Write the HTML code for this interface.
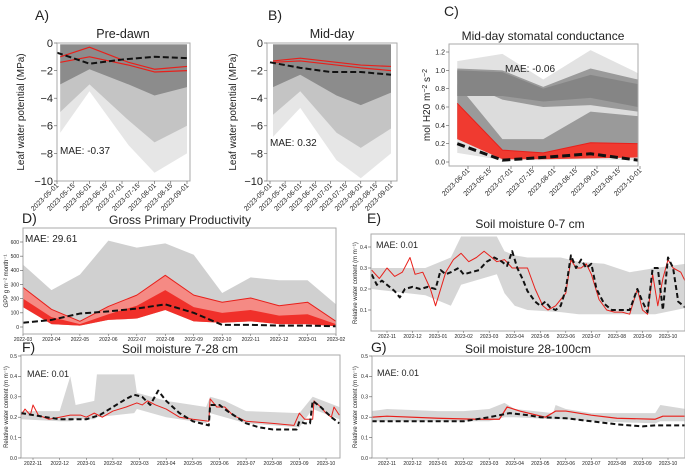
<!DOCTYPE html>
<html><head><meta charset="utf-8"><style>
body{margin:0;background:#fff;}
svg{display:block;font-family:"Liberation Sans",sans-serif;}
</style></head><body>
<svg id="fig" width="685" height="466" viewBox="0 0 685 466"></svg>
<script>
// ---------- DATA ----------
const aX=[0.2,2,4.4,6,8];
const aLightLo=[-6.5,-3.5,-7.4,-9.4,-8.0];
const aMidLo=[-5.0,-3.0,-5.6,-7.2,-6.0];
const aDarkLo=[-3.0,-1.9,-3.0,-3.8,-3.2];
const aHi=[-0.1,-0.1,-0.1,-0.1,-0.1];
const aRed1=[-1.0,-0.3,-1.4,-1.9,-1.7];
const aRed2=[-1.4,-1.0,-1.6,-2.1,-2.0];
const aObsX=[0,2,4,6,8];
const aObs=[-0.7,-1.5,-1.2,-1.0,-1.1];
const abTicks=["2023-05-01","2023-05-15","2023-06-01","2023-06-15","2023-07-01","2023-07-15","2023-08-01","2023-08-15","2023-09-01"];
const abYTicks=[0,-2,-4,-6,-8,-10];
const bX=[0.2,2,4.4,6,8];
const bLightLo=[-6.8,-4.7,-8.5,-9.8,-8.0];
const bMidLo=[-5.2,-3.5,-6.5,-7.6,-6.2];
const bDarkLo=[-3.2,-2.3,-3.8,-4.5,-3.6];
const bHi=[-0.1,-0.1,-0.1,-0.1,-0.1];
const bRed1=[-1.3,-1.1,-1.4,-1.6,-1.7];
const bRed2=[-1.4,-1.3,-1.6,-1.8,-2.0];
const bObs=[-1.4,-1.8,-2.1,-2.1,-2.3];
const cX=[-0.5,1.6,3.5,5.7,7.9];
const cLightHi=[1.1,1.18,0.9,1.22,0.97];
const cLightLo=[0.1,0.02,0.02,0.03,0.02];
const cGrayHi=[1.02,1.0,0.82,1.02,0.9];
const cGrayLo=[0.25,0.12,0.1,0.2,0.2];
const cHoleHi=[0.9,0.68,0.6,0.62,0.55];
const cHoleLo=[0.85,0.25,0.25,0.55,0.5];
const cDarkHi=[1.0,0.98,0.8,0.95,0.85];
const cDarkLo=[0.72,0.72,0.66,0.7,0.6];
const cRedHi=[0.64,0.13,0.1,0.21,0.2];
const cRedLo=[0.25,0.03,0.03,0.04,0.05];
const cObs=[0.2,0.02,0.05,0.09,0.02];
const cTicks=["2023-06-01","2023-06-15","2023-07-01","2023-07-15","2023-08-01","2023-08-15","2023-09-01","2023-09-15","2023-10-01"];
const cYTicks=[0,0.2,0.4,0.6,0.8,1.0,1.2];
const dX=[0,1,2,3,4,5,6,7,8,9,10,11];
const dGrayHi=[440,260,370,610,560,590,510,240,350,330,330,160];
const dRedHi=[280,125,40,145,225,365,225,175,205,150,175,40];
const dRedMid=[200,70,20,90,150,260,140,100,120,80,90,20];
const dRedLo=[140,20,10,50,60,120,40,30,40,20,20,5];
const dObs=[30,50,95,110,130,160,100,15,15,10,10,5];
const dTicks=["2022-03","2022-04","2022-05","2022-06","2022-07","2022-08","2022-09","2022-10","2022-11","2022-12","2023-01","2023-02"];
const dYTicks=[0,100,200,300,400,500,600];
const monthTicks=["2022-11","2022-12","2023-01","2023-02","2023-03","2023-04","2023-05","2023-06","2023-07","2023-08","2023-09","2023-10"];
const soilYTicks=[0,0.1,0.2,0.3,0.4,0.5];
const eObsT=[-0.6,-0.4,-0.2,0,0.3,0.5,0.7,1.0,1.3,1.6,1.9,2.1,2.3,2.5,2.8,3.0,3.3,3.6,3.9,4.2,4.5,4.7,4.9,5.1,5.3,5.5,5.8,6.0,6.2,6.4,6.6,6.8,7.0,7.2,7.4,7.6,7.8,8.0,8.2,8.5,8.8,9.2,9.5,9.8,10.0,10.2,10.4,10.6,10.8,11.0,11.2,11.4,11.6,11.7];
const eObs=[0.27,0.22,0.24,0.22,0.19,0.16,0.2,0.21,0.2,0.21,0.2,0.29,0.27,0.28,0.3,0.27,0.28,0.29,0.33,0.35,0.33,0.31,0.38,0.3,0.25,0.19,0.14,0.12,0.14,0.11,0.1,0.12,0.2,0.36,0.3,0.34,0.3,0.32,0.2,0.13,0.1,0.1,0.1,0.2,0.14,0.09,0.3,0.3,0.1,0.35,0.3,0.14,0.12,0.11];
const eRedT=[-0.6,-0.3,0,0.3,0.6,0.9,1.1,1.4,1.7,1.9,2.1,2.3,2.6,2.9,3.2,3.5,3.8,4.1,4.3,4.6,4.9,5.2,5.5,5.8,6.1,6.3,6.6,6.8,7.0,7.2,7.4,7.6,7.8,8.0,8.3,8.6,8.9,9.2,9.5,9.8,10.0,10.2,10.4,10.6,10.8,11.0,11.2,11.5,11.7];
const eRed=[0.29,0.25,0.3,0.26,0.28,0.35,0.27,0.28,0.2,0.12,0.2,0.28,0.34,0.37,0.33,0.35,0.38,0.35,0.33,0.34,0.3,0.3,0.3,0.2,0.12,0.1,0.12,0.15,0.18,0.34,0.3,0.3,0.32,0.27,0.15,0.1,0.09,0.09,0.08,0.2,0.1,0.08,0.27,0.12,0.25,0.34,0.3,0.28,0.23];
const eGrayT=[-0.6,1.5,2.5,2.9,4.3,4.6,5.0,5.5,6.8,7.5,8.5,9.5,10.5,11.7];
const eGrayHi=[0.3,0.3,0.35,0.45,0.45,0.38,0.36,0.35,0.35,0.33,0.32,0.28,0.3,0.32];
const eGrayLo=[0.2,0.17,0.12,0.22,0.27,0.18,0.12,0.1,0.09,0.08,0.08,0.08,0.08,0.11];
const fObsT=[-0.45,0.5,1,2.0,2.5,3.0,3.5,3.8,4.1,4.4,4.7,5.0,5.5,6.0,6.6,6.65,7.0,7.3,8.0,8.5,9.0,9.9,10.0,10.2,10.4,10.5,10.8,11.2,11.5];
const fObs=[0.22,0.2,0.19,0.19,0.21,0.25,0.29,0.31,0.3,0.26,0.33,0.28,0.22,0.18,0.16,0.26,0.26,0.23,0.17,0.15,0.14,0.14,0.18,0.17,0.17,0.28,0.25,0.2,0.17];
const fRedT=[-0.45,-0.3,-0.1,0,0.2,0.6,1,1.4,1.8,2.0,2.3,2.6,3.0,3.5,3.9,4.1,4.3,4.6,5.0,5.5,6.0,6.6,6.65,6.9,7.2,7.5,8.0,9.0,9.8,10.0,10.2,10.5,10.55,10.8,11.0,11.2,11.3,11.5];
const fRed=[0.21,0.24,0.21,0.26,0.21,0.19,0.2,0.21,0.21,0.2,0.22,0.2,0.23,0.25,0.27,0.26,0.28,0.26,0.24,0.2,0.19,0.18,0.29,0.25,0.25,0.21,0.18,0.17,0.16,0.22,0.19,0.19,0.28,0.25,0.22,0.2,0.25,0.21];
const fGrayT=[-0.45,1,1.4,1.6,2.3,2.4,3.8,3.9,5,6.5,6.65,7.2,8,10,10.5,11.5];
const fGrayHi=[0.23,0.23,0.4,0.26,0.28,0.41,0.41,0.32,0.28,0.25,0.3,0.28,0.23,0.22,0.3,0.25];
const fGrayLo=[0.19,0.18,0.18,0.19,0.19,0.2,0.22,0.24,0.2,0.17,0.22,0.2,0.17,0.15,0.24,0.19];
const gObsT=[-0.6,3.0,4.0,4.8,5.5,6.0,7.0,8.0,9.0,10.0,10.5,11.7];
const gObs=[0.18,0.18,0.2,0.22,0.21,0.2,0.195,0.18,0.165,0.155,0.16,0.16];
const gRedT=[-0.6,0,2,3.5,4.4,4.7,5.2,6.2,6.6,7.0,8.0,9.0,10.5,10.8,11.7];
const gRed=[0.2,0.205,0.195,0.19,0.19,0.25,0.23,0.2,0.23,0.23,0.21,0.195,0.19,0.205,0.205];
const gGrayT=[-0.6,0,2,3,4.0,4.6,5,6.5,6.6,7.0,8,10.5,10.7,11.7];
const gGrayHi=[0.23,0.24,0.23,0.23,0.24,0.27,0.24,0.22,0.26,0.24,0.22,0.22,0.26,0.24];
const gGrayLo=[0.18,0.18,0.18,0.18,0.18,0.2,0.2,0.19,0.19,0.19,0.18,0.17,0.18,0.18];

// ---------- DRAWING ----------
const NS="http://www.w3.org/2000/svg";
const svg=document.getElementById('fig');
function el(tag,parent){const e=document.createElementNS(NS,tag);parent.appendChild(e);return e;}
let clipId=0;
function panel(name,box,xd,xr,yd,yr){
  const g=el('g',svg);
  
  
  const cp=el('clipPath',g);cp.setAttribute('id','cp'+clipId);
  const r=el('rect',cp);r.setAttribute('x',box[0]);r.setAttribute('y',box[1]);r.setAttribute('width',box[2]-box[0]);r.setAttribute('height',box[3]-box[1]);
  const plot=el('g',g);plot.setAttribute('clip-path','url(#cp'+clipId+')');
  
  
  clipId++;
  const sx=v=>xr[0]+(v-xd[0])/(xd[1]-xd[0])*(xr[1]-xr[0]);
  const sy=v=>yr[0]+(v-yd[0])/(yd[1]-yd[0])*(yr[1]-yr[0]);
  return {g,plot,box,sx,sy};
}
function band(p,xsHi,hi,xsLo,lo,fill,nm){
  const pts=xsHi.map((x,i)=>p.sx(x)+','+p.sy(hi[i]));
  for(let i=xsLo.length-1;i>=0;i--)pts.push(p.sx(xsLo[i])+','+p.sy(lo[i]));
  const e=el('polygon',p.plot);e.setAttribute('points',pts.join(' '));e.setAttribute('fill',fill);
  
  
}
function line(p,xs,ys,stroke,w,dash,nm){
  const e=el('polyline',p.plot);e.setAttribute('points',xs.map((x,i)=>p.sx(x)+','+p.sy(ys[i])).join(' '));
  e.setAttribute('fill','none');e.setAttribute('stroke',stroke);e.setAttribute('stroke-width',w);
  e.setAttribute('stroke-linejoin','round');
  if(dash)e.setAttribute('stroke-dasharray',dash);
  
  
}
function text(parent,x,y,s,size,anchor,nm,rot,color){
  const t=el('text',parent);t.setAttribute('x',x);t.setAttribute('y',y);t.setAttribute('font-size',size);
  t.setAttribute('text-anchor',anchor||'start');t.setAttribute('fill',color||'#222');
  if(rot)t.setAttribute('transform','rotate('+rot+' '+x+' '+y+')');
  t.textContent=s;
  
  
  return t;
}
function frame(p){
  const b=p.box;const r=el('rect',p.g);r.setAttribute('x',b[0]);r.setAttribute('y',b[1]);r.setAttribute('width',b[2]-b[0]);r.setAttribute('height',b[3]-b[1]);
  r.setAttribute('fill','none');r.setAttribute('stroke','#aaa');r.setAttribute('stroke-width','1');
  
  
}
function yticks(p,vals,fmt,size,nm){
  vals.forEach(v=>{const y=p.sy(v);
    const t=el('line',p.g);t.setAttribute('x1',p.box[0]-3);t.setAttribute('x2',p.box[0]);t.setAttribute('y1',y);t.setAttribute('y2',y);t.setAttribute('stroke','#555');t.setAttribute('stroke-width',0.6);
    text(p.g,p.box[0]-4,y+size*0.35,fmt(v),size,'end',nm+'-tick-label');});
}
function xticksRot(p,labels,size,nm){
  labels.forEach((s,i)=>{const x=p.sx(i);
    const t=el('line',p.g);t.setAttribute('x1',x);t.setAttribute('x2',x);t.setAttribute('y1',p.box[3]);t.setAttribute('y2',p.box[3]+3);t.setAttribute('stroke','#555');t.setAttribute('stroke-width',0.6);
    text(p.g,x+2,p.box[3]+5,s,size,'end',nm+'-tick-label',-45);});
}
function xticksFlat(p,labels,xs,size,nm){
  labels.forEach((s,i)=>{const x=p.sx(xs[i]);
    const t=el('line',p.g);t.setAttribute('x1',x);t.setAttribute('x2',x);t.setAttribute('y1',p.box[3]);t.setAttribute('y2',p.box[3]+2);t.setAttribute('stroke','#555');t.setAttribute('stroke-width',0.5);
    text(p.g,x,p.box[3]+7,s,size,'middle',nm+'-tick-label');});
}
const minus=v=>String(v).replace('-','\u2212');

// Panel A
const pa=panel('panel-a',[57,43,190,181],[0,8],[57,187],[-10,0],[181,43]);
band(pa,aX,aHi,aX,aLightLo,'#e6e6e6','ensemble-envelope');
band(pa,aX,aHi,aX,aMidLo,'#c4c4c4','ensemble-mid-band');
band(pa,aX,aHi,aX,aDarkLo,'#8c8c8c','ensemble-core-band');
line(pa,aX,aRed1,'#e8201b',1.2,null,'selected-run-1');
line(pa,aX,aRed2,'#e8201b',1.2,null,'selected-run-2');
line(pa,aObsX,aObs,'#111',2,'6,3','observed-line');
frame(pa);yticks(pa,abYTicks,minus,11,'y-axis');xticksRot(pa,abTicks,7,'x-axis');
text(pa.g,123,38,'Pre-dawn',12.5,'middle','panel-title');
text(svg,35,20,'A)',14,'start','panel-label-a');
text(pa.g,60,154,'MAE: -0.37',10,'start','mae-label');
text(pa.g,24,112,'Leaf water potential (MPa)',10,'middle','y-axis-title',-90);

// Panel B
const pb=panel('panel-b',[267,43,397,181],[0,8],[270,391],[-10,0],[181,43]);
band(pb,bX,bHi,bX,bLightLo,'#e6e6e6','ensemble-envelope');
band(pb,bX,bHi,bX,bMidLo,'#c4c4c4','ensemble-mid-band');
band(pb,bX,bHi,bX,bDarkLo,'#8c8c8c','ensemble-core-band');
line(pb,bX,bRed1,'#e8201b',1.2,null,'selected-run-1');
line(pb,bX,bRed2,'#e8201b',1.2,null,'selected-run-2');
line(pb,aObsX,bObs,'#111',2,'6,3','observed-line');
frame(pb);yticks(pb,abYTicks,minus,11,'y-axis');xticksRot(pb,abTicks,7,'x-axis');
text(pb.g,332,38,'Mid-day',12.5,'middle','panel-title');
text(svg,268,20,'B)',14,'start','panel-label-b');
text(pb.g,270,146,'MAE: 0.32',10,'start','mae-label');
text(pb.g,236,112,'Leaf water potential (MPa)',10,'middle','y-axis-title',-90);

// Panel C
const pc=panel('panel-c',[449,44,638,166],[0,8],[468,640],[0,1.2],[162,52]);
band(pc,cX,cLightHi,cX,cLightLo,'#e2e2e2','ensemble-envelope');
band(pc,cX,cGrayHi,cX,cGrayLo,'#9a9a9a','ensemble-band');
band(pc,cX,cHoleHi,cX,cHoleLo,'#dcdcdc','ensemble-gap');
band(pc,cX,cDarkHi,cX,cDarkLo,'#858585','ensemble-core-band');
band(pc,cX,cRedHi,cX,cRedLo,'#f03a30','selected-runs-band');
line(pc,cX,cRedHi,'#e8201b',1,null,'selected-run-upper');
line(pc,cX,cObs,'#111',3,'8,4','observed-line');
frame(pc);yticks(pc,cYTicks,v=>v.toFixed(1),7,'y-axis');xticksRot(pc,cTicks,7,'x-axis');
text(pc.g,543,40,'Mid-day stomatal conductance',12,'middle','panel-title');
text(svg,444,16,'C)',14,'start','panel-label-c');
text(pc.g,505,72,'MAE: -0.06',10,'start','mae-label');
const ct=text(pc.g,430,105,'mol H20 m',10,'middle','y-axis-title',-90);
const ts1=el('tspan',ct);ts1.setAttribute('baseline-shift','super');ts1.setAttribute('font-size',7);ts1.textContent='−2';
const ts2=el('tspan',ct);ts2.textContent=' s';
const ts3=el('tspan',ct);ts3.setAttribute('baseline-shift','super');ts3.setAttribute('font-size',7);ts3.textContent='−2';

// Panel D
const pd=panel('panel-d',[23,228,336,334],[0,11],[23,336],[0,600],[327,242]);
band(pd,dX,dGrayHi,dX,dRedLo,'#d0d0d0','ensemble-envelope');
band(pd,dX,dRedHi,dX,dRedLo,'#f58a84','selected-runs-band');
band(pd,dX,dRedMid,dX,dRedLo,'#f0302a','selected-runs-core');
line(pd,dX,dRedHi,'#e8201b',1,null,'selected-run-upper');
line(pd,dX,dObs,'#111',2,'6,3','observed-line');
frame(pd);yticks(pd,dYTicks,v=>String(v),5,'y-axis');xticksFlat(pd,dTicks,dX,5,'x-axis');
text(pd.g,180,224,'Gross Primary Productivity',12,'middle','panel-title');
text(svg,22,223,'D)',14,'start','panel-label-d');
text(pd.g,25,242,'MAE: 29.61',10,'start','mae-label');
text(pd.g,8,281,'GPP g m⁻² month⁻¹',6,'middle','y-axis-title',-90);

// Panel E
const pe=panel('panel-e',[371,234,685,331],[0,11],[387,668],[0,0.4],[331,247]);
band(pe,eGrayT,eGrayHi,eGrayT,eGrayLo,'#d6d6d6','ensemble-envelope');
line(pe,eRedT,eRed,'#e8201b',1,null,'selected-run');
line(pe,eObsT,eObs,'#111',2,'5,3','observed-line');
frame(pe);yticks(pe,[0.1,0.2,0.3,0.4],v=>v.toFixed(1),5,'y-axis');xticksFlat(pe,monthTicks,[0,1,2,3,4,5,6,7,8,9,10,11],5,'x-axis');
text(pe.g,530,228,'Soil moisture 0-7 cm',12,'middle','panel-title');
text(svg,367,223,'E)',14,'start','panel-label-e');
text(pe.g,376,248,'MAE: 0.01',9,'start','mae-label');
text(pe.g,357,283,'Relative water content (m m⁻¹)',6,'middle','y-axis-title',-90);

// Panel F
const pf=panel('panel-f',[21,355,340,458],[0,11],[33,326],[0,0.5],[458,356]);
band(pf,fGrayT,fGrayHi,fGrayT,fGrayLo,'#d6d6d6','ensemble-envelope');
line(pf,fRedT,fRed,'#e8201b',1,null,'selected-run');
line(pf,fObsT,fObs,'#111',2,'5,3','observed-line');
frame(pf);yticks(pf,soilYTicks,v=>v.toFixed(1),5,'y-axis');xticksFlat(pf,monthTicks,[0,1,2,3,4,5,6,7,8,9,10,11],5,'x-axis');
text(pf.g,180,353,'Soil moisture 7-28 cm',12,'middle','panel-title');
text(svg,22,352,'F)',14,'start','panel-label-f');
text(pf.g,27,377,'MAE: 0.01',9,'start','mae-label');
text(pf.g,8,407,'Relative water content (m m⁻¹)',6,'middle','y-axis-title',-90);

// Panel G
const pg=panel('panel-g',[372,356,685,458],[0,11],[387,668],[0,0.5],[458,356]);
band(pg,gGrayT,gGrayHi,gGrayT,gGrayLo,'#d6d6d6','ensemble-envelope');
line(pg,gRedT,gRed,'#e8201b',1.2,null,'selected-run');
line(pg,gObsT,gObs,'#111',2,'5,3','observed-line');
frame(pg);yticks(pg,soilYTicks,v=>v.toFixed(1),5,'y-axis');xticksFlat(pg,monthTicks,[0,1,2,3,4,5,6,7,8,9,10,11],5,'x-axis');
text(pg.g,528,353,'Soil moisture 28-100cm',12,'middle','panel-title');
text(svg,371,352,'G)',14,'start','panel-label-g');
text(pg.g,377,376,'MAE: 0.01',9,'start','mae-label');
text(pg.g,357,407,'Relative water content (m m⁻¹)',6,'middle','y-axis-title',-90);
</script>
</body></html>
